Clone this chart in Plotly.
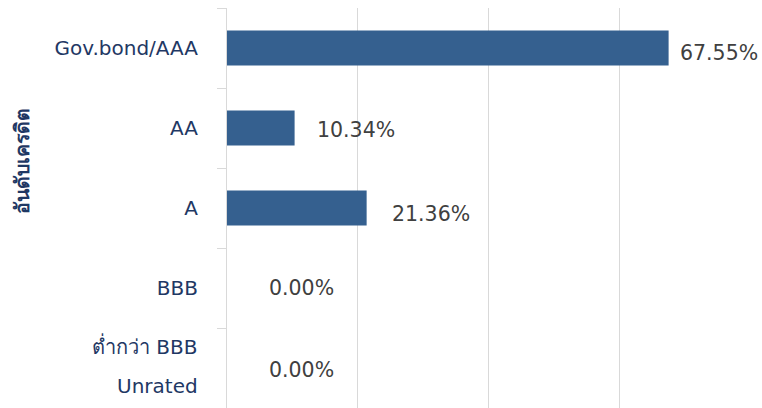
import plotly.graph_objects as go

categories = ["Gov.bond/AAA", "AA", "A", "BBB", "ต่ำกว่า BBB / Unrated"]
tick_labels = ["Gov.bond/AAA", "AA", "A", "BBB", ""]
split_label = ["ต่ำกว่า BBB", "Unrated"]
values = [67.55, 10.34, 21.36, 0.00, 0.00]
y_title = "อันดับเครดิต"

# label placement offsets (pixels) as in the reference
label_dx = [9, 20, 23, 40, 40]
label_dy = [-5, -2, -6, 0, -2]

BAR = "#35608F"
NAVY = "#1F3864"
GRID = "#D9D9D9"
FONT = "DejaVu Sans, Noto Sans, sans-serif"
TICKFONT = dict(family=FONT, size=20, color=NAVY)

fig = go.Figure(go.Bar(
    x=values, y=categories, orientation="h",
    marker=dict(color=BAR, line=dict(width=0)),
    width=0.44, hoverinfo="skip",
))

for v, c, dx, dy in zip(values, categories, label_dx, label_dy):
    fig.add_annotation(x=v, y=c, xref="x", yref="y", text=f"{v:.2f}%",
                       showarrow=False, xanchor="left", yanchor="middle",
                       xshift=dx, yshift=dy,
                       font=dict(family=FONT, size=20.5, color="#404040"))

# two-line tick label for the last category
for txt, dy in zip(split_label, [22, -18]):
    fig.add_annotation(x=0, y=categories[-1], xref="paper", yref="y", text=txt,
                       showarrow=False, xanchor="right", yanchor="middle",
                       xshift=-27, yshift=dy, font=TICKFONT)

fig.add_annotation(x=-0.39, y=0.6175, xref="paper", yref="paper",
                   text=f"<b>{y_title}</b>", textangle=-90, showarrow=False,
                   xanchor="center", yanchor="middle",
                   font=dict(family=FONT, size=19.5, color=NAVY))

fig.update_layout(
    width=762, height=408,
    margin=dict(l=227, r=12, t=8, b=0, pad=0),
    paper_bgcolor="white", plot_bgcolor="white",
    showlegend=False,
    xaxis=dict(range=[0, 80], dtick=20, showgrid=True, gridcolor=GRID, gridwidth=1,
               showticklabels=False, zeroline=False, showline=False, ticks=""),
    yaxis=dict(categoryorder="array", categoryarray=categories, autorange="reversed",
               tickmode="array", tickvals=categories, ticktext=tick_labels,
               showline=True, linecolor=GRID, linewidth=1,
               ticks="outside", tickson="boundaries", ticklen=9, tickcolor=GRID,
               tickwidth=1, ticklabelstandoff=24, automargin=False,
               tickfont=TICKFONT, showgrid=False),
)

fig.write_html("out.html", config={"displayModeBar": False},
               post_script="document.body.style.margin='0';document.body.style.padding='0';")
